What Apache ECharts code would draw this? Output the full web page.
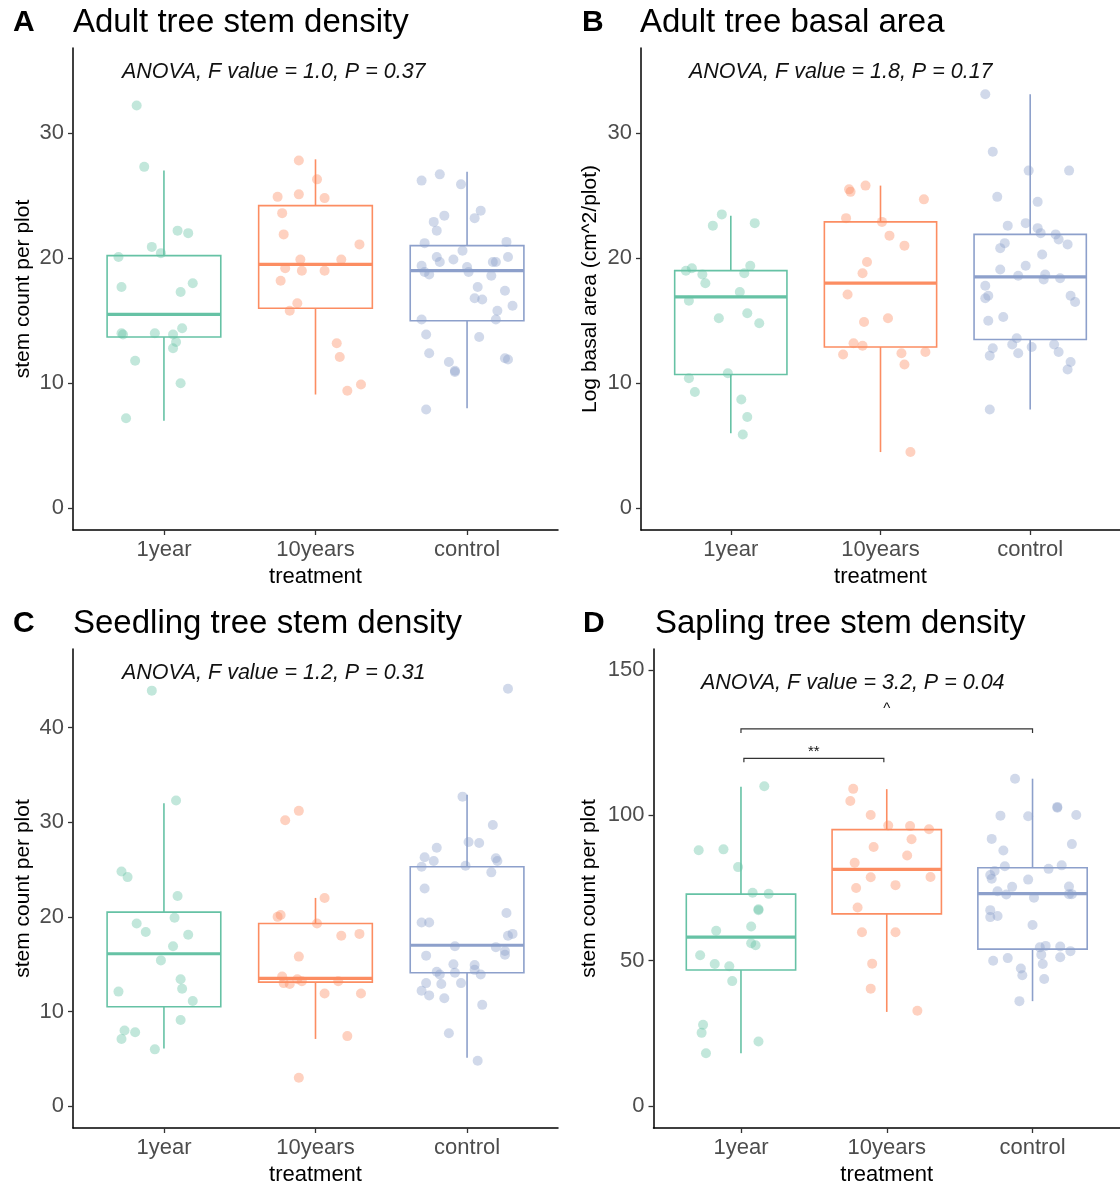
<!DOCTYPE html>
<html>
<head>
<meta charset="utf-8">
<script src="https://cdn.jsdelivr.net/npm/echarts@6/dist/echarts.min.js"></script>
<style>
  html, body { margin: 0; padding: 0; background: #fff; }
  #main { width: 1120px; height: 1187px; }
</style>
</head>
<body>
<div id="main"></div>
<script>
var treatments = ['1year', '10years', 'control'];
var colors = ['#66C2A5', '#FC8D62', '#8DA0CB'];

// box stats per treatment: [lower whisker, Q1, median, Q3, upper whisker]
var boxA = [[7.0, 13.7, 15.5, 20.2, 27.0], [9.1, 16.0, 19.5, 24.2, 27.9], [8.0, 15.0, 19.0, 21.0, 26.9]];
var boxB = [[6.0, 10.7, 16.9, 19.0, 23.4], [4.5, 12.9, 18.0, 22.9, 25.8], [7.9, 13.5, 18.5, 21.9, 33.1]];
var boxC = [[6.1, 10.5, 16.1, 20.5, 32.0], [7.1, 13.1, 13.5, 19.3, 22.0], [5.1, 14.1, 17.0, 25.3, 32.9]];
var boxD = [[18.2, 46.8, 58.1, 72.9, 109.8], [32.4, 66.1, 81.4, 95.1, 109.0], [36.1, 54.0, 73.1, 82.0, 112.6]];

// jittered points: [horizontal jitter, value]
var ptsA1 = [[-0.18, 32.2], [-0.13, 27.3], [0.09, 22.2], [0.16, 22.0], [-0.08, 20.9], [-0.02, 20.4], [-0.30, 20.1],
  [-0.28, 17.7], [0.19, 18.0], [0.11, 17.3], [-0.28, 14.0], [-0.27, 13.9], [-0.06, 14.0], [0.06, 13.9], [0.12, 14.4],
  [0.08, 13.3], [0.06, 12.8], [-0.19, 11.8], [0.11, 10.0], [-0.25, 7.2]];
var ptsA2 = [[-0.11, 27.8], [0.01, 26.3], [-0.25, 24.9], [-0.11, 25.1], [0.06, 24.8], [-0.22, 23.6], [-0.21, 21.9],
  [-0.10, 19.9], [-0.20, 19.2], [-0.09, 19.0], [0.06, 19.0], [0.17, 19.9], [0.29, 21.1], [-0.23, 18.2], [-0.12, 16.4],
  [-0.17, 15.8], [0.14, 13.2], [0.16, 12.1], [0.30, 9.9], [0.21, 9.4]];
var ptsA3 = [[-0.30, 26.2], [-0.18, 26.7], [-0.04, 25.9], [0.09, 23.8], [0.05, 23.2], [-0.15, 23.4], [-0.22, 22.9],
  [-0.20, 22.2], [-0.28, 21.2], [0.26, 21.3], [0.27, 20.1], [-0.03, 20.6], [-0.20, 20.1], [-0.18, 19.7], [-0.09, 19.9],
  [0.00, 19.3], [-0.30, 19.4], [-0.28, 18.9], [-0.25, 18.7], [0.01, 18.9], [0.17, 19.7], [0.19, 19.7], [0.16, 18.6],
  [0.07, 17.7], [0.25, 17.4], [0.05, 16.8], [0.10, 16.7], [0.30, 16.2], [0.20, 15.8], [0.19, 15.1], [-0.30, 15.1],
  [-0.27, 13.9], [0.08, 13.7], [-0.25, 12.4], [-0.12, 11.7], [-0.08, 11.0], [-0.08, 10.9], [0.25, 12.0], [0.27, 11.9],
  [-0.27, 7.9]];

var ptsB1 = [[-0.06, 23.5], [-0.12, 22.6], [0.16, 22.8], [-0.30, 19.0], [-0.26, 19.2], [-0.19, 18.7], [-0.17, 18.0],
  [0.13, 19.4], [0.09, 18.8], [0.06, 17.3], [-0.28, 16.6], [-0.08, 15.2], [0.11, 15.6], [0.19, 14.8], [-0.28, 10.4],
  [-0.02, 10.8], [-0.24, 9.3], [0.07, 8.7], [0.11, 7.3], [0.08, 5.9]];
var ptsB2 = [[-0.21, 25.5], [-0.20, 25.3], [-0.10, 25.8], [-0.23, 23.2], [-0.09, 19.7], [-0.12, 18.8], [-0.22, 17.1],
  [-0.11, 14.9], [-0.18, 13.2], [-0.12, 13.0], [-0.25, 12.3], [0.29, 24.7], [0.01, 22.9], [0.06, 21.8], [0.16, 21.0],
  [0.05, 15.2], [0.14, 12.4], [0.30, 12.5], [0.16, 11.5], [0.20, 4.5]];
var ptsB3 = [[-0.30, 33.1], [-0.25, 28.5], [-0.01, 27.0], [0.26, 27.0], [-0.22, 24.9], [0.05, 24.5], [-0.15, 22.6],
  [-0.03, 22.8], [0.05, 22.4], [0.07, 22.0], [0.17, 21.9], [0.19, 21.5], [0.25, 21.1], [-0.17, 21.2], [-0.20, 20.8],
  [0.08, 20.3], [-0.20, 19.1], [-0.03, 19.4], [-0.08, 18.6], [0.10, 18.7], [0.09, 18.3], [0.20, 18.4], [-0.30, 17.8],
  [-0.28, 17.0], [-0.30, 16.8], [0.27, 17.0], [0.30, 16.5], [-0.18, 15.3], [-0.28, 15.0], [-0.09, 13.6], [-0.12, 13.1],
  [0.01, 12.9], [0.16, 13.1], [0.19, 12.5], [-0.25, 12.8], [-0.27, 12.2], [-0.08, 12.4], [0.27, 11.7], [0.25, 11.1],
  [-0.27, 7.9]];

var ptsC1 = [[-0.08, 43.9], [0.08, 32.3], [-0.28, 24.8], [-0.24, 24.2], [0.09, 22.2], [0.07, 19.9], [-0.18, 19.3],
  [-0.12, 18.4], [0.16, 18.1], [0.06, 16.9], [-0.02, 15.4], [0.11, 13.4], [0.12, 12.4], [-0.30, 12.1], [0.19, 11.1],
  [0.11, 9.1], [-0.26, 8.0], [-0.28, 7.1], [-0.19, 7.8], [-0.06, 6.0]];
var ptsC2 = [[-0.20, 30.2], [-0.11, 31.2], [-0.25, 20.0], [-0.23, 20.2], [-0.11, 15.8], [-0.22, 13.7], [-0.21, 13.0],
  [-0.17, 12.9], [-0.12, 13.4], [-0.09, 13.2], [0.06, 22.0], [0.01, 19.3], [0.17, 18.0], [0.29, 18.2], [0.15, 13.2],
  [0.06, 11.9], [0.30, 11.9], [0.21, 7.4], [-0.11, 3.0]];
var ptsC3 = [[0.27, 44.1], [-0.03, 32.7], [0.17, 29.7], [0.01, 27.9], [0.08, 27.8], [-0.20, 27.3], [-0.28, 26.3],
  [-0.22, 25.9], [-0.30, 25.3], [-0.01, 25.4], [0.19, 26.2], [0.20, 25.9], [0.16, 24.7], [-0.28, 23.0], [-0.30, 19.4],
  [-0.25, 19.4], [0.26, 20.4], [0.27, 18.0], [0.30, 18.2], [-0.08, 16.9], [0.19, 16.8], [0.25, 16.4], [0.25, 16.0],
  [-0.27, 15.9], [-0.09, 15.0], [0.05, 14.9], [-0.20, 14.2], [-0.18, 13.9], [-0.08, 14.1], [0.05, 14.4], [0.09, 13.9],
  [-0.27, 13.0], [-0.30, 12.2], [-0.25, 11.7], [-0.17, 12.9], [-0.04, 13.0], [-0.15, 11.4], [0.10, 10.7], [-0.12, 7.7],
  [0.07, 4.8]];

var ptsD1 = [[0.16, 110.0], [-0.29, 88.0], [-0.12, 88.3], [-0.02, 82.2], [0.08, 73.4], [0.19, 73.0], [0.12, 67.4],
  [0.12, 67.7], [0.07, 61.8], [-0.17, 60.3], [0.07, 56.0], [0.10, 55.3], [-0.28, 51.9], [-0.18, 48.9], [-0.08, 48.1],
  [-0.06, 43.0], [-0.26, 28.0], [-0.27, 25.2], [0.12, 22.2], [-0.24, 18.2]];
var ptsD2 = [[-0.23, 109.1], [-0.25, 104.9], [-0.11, 100.1], [-0.09, 89.1], [-0.22, 83.7], [-0.11, 78.7], [-0.21, 75.0],
  [-0.20, 68.3], [-0.17, 59.8], [-0.10, 49.0], [-0.11, 40.4], [0.01, 96.5], [0.16, 96.3], [0.29, 95.2], [0.17, 91.8],
  [0.14, 86.2], [0.06, 76.0], [0.30, 78.8], [0.06, 59.8], [0.21, 32.8]];
var ptsD3 = [[-0.12, 112.6], [0.17, 102.6], [0.17, 102.9], [-0.22, 99.9], [-0.03, 99.7], [0.30, 100.1], [-0.28, 91.9],
  [0.27, 90.1], [-0.20, 87.9], [-0.19, 82.5], [-0.26, 80.9], [-0.28, 78.2], [-0.29, 79.5], [0.11, 81.6], [0.20, 82.8],
  [-0.03, 77.9], [-0.14, 75.4], [-0.24, 73.9], [-0.18, 72.8], [0.01, 71.7], [0.25, 75.5], [0.25, 72.9], [0.27, 72.9],
  [-0.29, 67.4], [-0.29, 65.0], [-0.24, 65.4], [0.00, 62.3], [0.05, 54.6], [0.09, 55.1], [0.19, 54.9], [0.26, 53.3],
  [0.06, 52.1], [0.19, 51.2], [-0.27, 50.0], [-0.17, 50.9], [0.07, 48.9], [-0.08, 47.3], [-0.07, 45.0], [0.08, 43.7],
  [-0.09, 36.1]];

// significance brackets in panel D: [from, to, bracket height, label height]
var bracketsD = [[0.02, 0.98, 119.6, 121.8], [0.0, 2.0, 129.7, 136.5]];
var bracketLabels = ['**', '^'];

var ticksAB = [0, 10, 20, 30];
var ticksC = [0, 10, 20, 30, 40];
var ticksD = [0, 50, 100, 150];

var font = 'Liberation Sans, Arial, Helvetica, sans-serif';

var panels = [
  { letter: 'A', title: 'Adult tree stem density', anova: 'ANOVA, F value = 1.0, P = 0.37', yName: 'stem count per plot',
    box: boxA, pts: [ptsA1, ptsA2, ptsA3], ticks: ticksAB, ymin: -1.73, ymax: 36.8,
    grid: { left: 73, top: 48, width: 485, height: 482 }, nameGap: 39,
    letterPos: [13, 8], titlePos: [73, 6], anovaPos: [122, 61] },
  { letter: 'B', title: 'Adult tree basal area', anova: 'ANOVA, F value = 1.8, P = 0.17', yName: 'Log basal area (cm^2/plot)',
    box: boxB, pts: [ptsB1, ptsB2, ptsB3], ticks: ticksAB, ymin: -1.73, ymax: 36.8,
    grid: { left: 641, top: 48, width: 485, height: 482 }, nameGap: 40,
    letterPos: [582, 8], titlePos: [640, 6], anovaPos: [689, 61] },
  { letter: 'C', title: 'Seedling tree stem density', anova: 'ANOVA, F value = 1.2, P = 0.31', yName: 'stem count per plot',
    box: boxC, pts: [ptsC1, ptsC2, ptsC3], ticks: ticksC, ymin: -2.31, ymax: 48.3,
    grid: { left: 73, top: 649, width: 485, height: 482 }, nameGap: 39,
    letterPos: [13, 609], titlePos: [73, 607], anovaPos: [122, 662] },
  { letter: 'D', title: 'Sapling tree stem density', anova: 'ANOVA, F value = 3.2, P = 0.04', yName: 'stem count per plot',
    box: boxD, pts: [ptsD1, ptsD2, ptsD3], ticks: ticksD, ymin: -7.52, ymax: 157.2,
    grid: { left: 653.5, top: 649, width: 472, height: 482 }, nameGap: 54,
    letterPos: [583, 609], titlePos: [655, 607], anovaPos: [701, 672] }
];

function renderBox(params, api) {
  var x = api.value(0);
  var lo = api.coord([x, api.value(1)]);
  var q1 = api.coord([x, api.value(2)]);
  var med = api.coord([x, api.value(3)]);
  var q3 = api.coord([x, api.value(4)]);
  var hi = api.coord([x, api.value(5)]);
  var left = api.coord([x - 0.375, 0])[0];
  var right = api.coord([x + 0.375, 0])[0];
  var c = colors[params.dataIndex];
  return {
    type: 'group',
    children: [
      { type: 'line', shape: { x1: lo[0], y1: lo[1], x2: q1[0], y2: q1[1] }, style: { stroke: c, lineWidth: 1.6 } },
      { type: 'line', shape: { x1: q3[0], y1: q3[1], x2: hi[0], y2: hi[1] }, style: { stroke: c, lineWidth: 1.6 } },
      { type: 'rect', shape: { x: left, y: q3[1], width: right - left, height: q1[1] - q3[1] },
        style: { fill: 'transparent', stroke: c, lineWidth: 1.6 } },
      { type: 'line', shape: { x1: left, y1: med[1], x2: right, y2: med[1] }, style: { stroke: c, lineWidth: 3.2 } }
    ]
  };
}

function renderBracket(params, api) {
  var a = api.coord([api.value(0), api.value(2)]);
  var b = api.coord([api.value(1), api.value(2)]);
  var ly = api.coord([api.value(0), api.value(3)])[1];
  return {
    type: 'group',
    children: [
      { type: 'polyline', shape: { points: [[a[0], a[1] + 4], [a[0], a[1]], [b[0], b[1]], [b[0], b[1] + 4]] },
        style: { stroke: '#333', lineWidth: 1.2, fill: null } },
      { type: 'text', x: (a[0] + b[0]) / 2, y: ly,
        style: { text: bracketLabels[params.dataIndex], fontSize: 15, fontFamily: font, fill: '#111',
                 align: 'center', verticalAlign: 'middle' } }
    ]
  };
}

var titles = [], grids = [], xAxes = [], yAxes = [], series = [];

panels.forEach(function (p, k) {
  titles.push({ text: p.letter, left: p.letterPos[0], top: p.letterPos[1], padding: 0,
    textStyle: { fontSize: 30, fontWeight: 'bold', color: '#000', fontFamily: font } });
  titles.push({ text: p.title, left: p.titlePos[0], top: p.titlePos[1], padding: 0,
    textStyle: { fontSize: 33, fontWeight: 'normal', color: '#000', fontFamily: font } });
  titles.push({ text: p.anova, left: p.anovaPos[0], top: p.anovaPos[1], padding: 0,
    textStyle: { fontSize: 21.5, fontWeight: 'normal', fontStyle: 'italic', color: '#111', fontFamily: font } });

  grids.push(p.grid);

  xAxes.push({
    type: 'value', gridIndex: k, min: -0.6, max: 2.6,
    name: 'treatment', nameLocation: 'middle', nameGap: 36,
    nameTextStyle: { fontSize: 22, color: '#000', fontFamily: font },
    axisLine: { onZero: false, lineStyle: { color: '#000', width: 1.5 } },
    axisTick: { customValues: [0, 1, 2], length: 5, lineStyle: { color: '#333', width: 1.3 } },
    axisLabel: { customValues: [0, 1, 2], margin: 9, fontSize: 22, color: '#4D4D4D', fontFamily: font,
      formatter: function (v) { return treatments[Math.round(v)]; } },
    splitLine: { show: false }
  });

  yAxes.push({
    type: 'value', gridIndex: k, min: p.ymin, max: p.ymax,
    name: p.yName, nameLocation: 'middle', nameGap: p.nameGap,
    nameTextStyle: { fontSize: 21, color: '#000', fontFamily: font },
    axisLine: { show: true, onZero: false, lineStyle: { color: '#000', width: 1.5 } },
    axisTick: { show: true, customValues: p.ticks, length: 5, lineStyle: { color: '#333', width: 1.3 } },
    axisLabel: { customValues: p.ticks, margin: 9, fontSize: 22, color: '#4D4D4D', fontFamily: font },
    splitLine: { show: false }
  });

  series.push({
    type: 'custom', xAxisIndex: k, yAxisIndex: k, z: 2, silent: true,
    renderItem: renderBox,
    data: p.box.map(function (b, i) { return [i].concat(b); })
  });

  p.pts.forEach(function (grp, g) {
    series.push({
      type: 'scatter', xAxisIndex: k, yAxisIndex: k, z: 3, silent: true,
      symbolSize: 10,
      itemStyle: { color: colors[g], opacity: 0.4 },
      data: grp.map(function (d) { return [g + d[0], d[1]]; })
    });
  });
});

series.push({
  type: 'custom', xAxisIndex: 3, yAxisIndex: 3, z: 4, silent: true,
  renderItem: renderBracket,
  data: bracketsD
});

var chart = echarts.init(document.getElementById('main'), null, { renderer: 'canvas' });
chart.setOption({
  backgroundColor: '#fff',
  animation: false,
  title: titles,
  grid: grids,
  xAxis: xAxes,
  yAxis: yAxes,
  series: series
});
</script>
</body>
</html>
